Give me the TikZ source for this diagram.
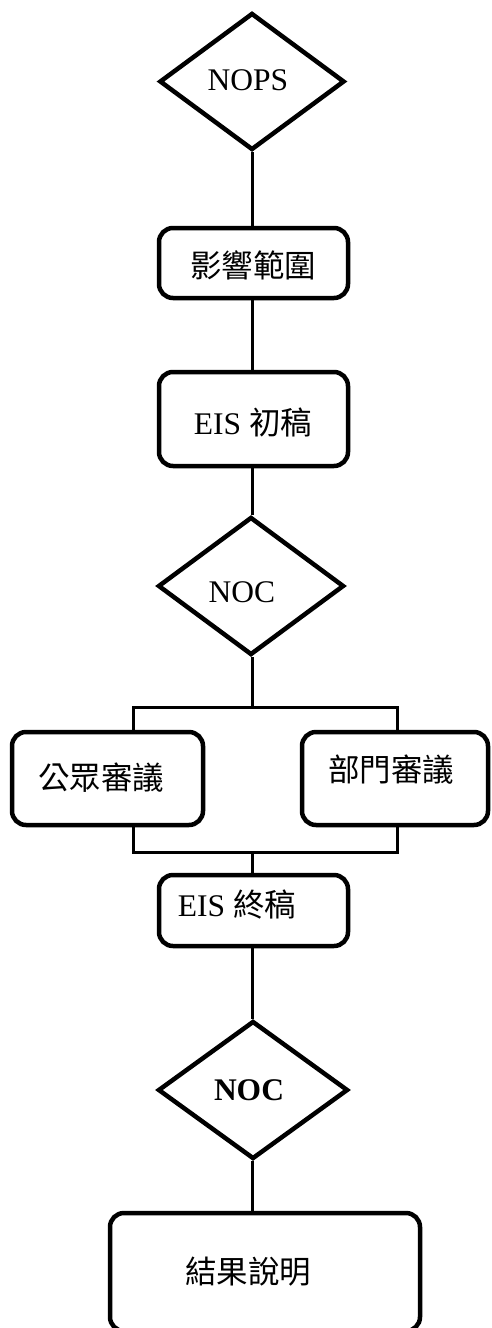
\documentclass[tikz,border=0pt]{standalone}
\usepackage{fontspec}
\setmainfont{Liberation Serif}
\newfontfamily\cjk{Noto Sans CJK TC}
\usetikzlibrary{shapes.geometric}
\begin{document}
\begin{tikzpicture}[x=1pt,y=-1pt,
  box/.style={draw=black,line width=4.5pt,rounded corners=14pt,rectangle,inner sep=0pt,fill=white},
  dia/.style={draw=black,line width=4.5pt,diamond,inner sep=0pt,fill=white},
  conn/.style={draw=black,line width=3pt},
  every node/.style={font=\fontsize{31.5}{36}\selectfont}]
\useasboundingbox (0,0) rectangle (491,1328);
\coordinate (tl) at (133,707);
\coordinate (tr) at (397,707);
\coordinate (bl) at (133,852);
\coordinate (br) at (397,852);
% shapes
\node[dia,minimum width=185pt,minimum height=137pt] (d1) at (252,81.5) {};
\node (t1) at (248,80) {NOPS};
\node[box,minimum width=189pt,minimum height=70pt] (r1) at (253.5,263) {};
\node (t2) at (253,265) {\cjk 影響範圍};
\node[box,minimum width=189pt,minimum height=94pt] (r2) at (253.5,419) {};
\node (t3) at (253,422) {EIS {\cjk 初稿}};
\node[dia,minimum width=186pt,minimum height=138pt] (d2) at (251,586) {};
\node (t4) at (242,592) {NOC};
\node[box,minimum width=191pt,minimum height=93pt] (pub) at (107.5,778.5) {};
\node (t5) at (101,778) {\cjk 公眾審議};
\node[box,minimum width=186pt,minimum height=93pt] (dep) at (395,778.5) {};
\node (t6) at (391,770) {\cjk 部門審議};
\node[box,minimum width=189pt,minimum height=71pt] (fin) at (253.5,910.5) {};
\node (t7) at (237,905) {EIS {\cjk 終稿}};
\node[dia,minimum width=190pt,minimum height=138pt] (d3) at (253,1090) {};
\node (t8) at (249,1090) {\bfseries NOC};
\node[box,minimum width=310pt,minimum height=118pt] (res) at (265,1272) {};
\node (t9) at (248,1272) {\cjk 結果說明};
% connectors
\draw[conn] (d1.south) -- (d1.south |- r1.north);
\draw[conn] (r1.south -| d1.south) -- (r2.north -| d1.south);
\draw[conn] (r2.south -| d1.south) -- (d2.north -| d1.south);
\draw[conn] (d2.south -| d1.south) -- (d1.south |- tl);
\draw[conn] (pub.north -| tl) -- (tl) -- (tr) -- (dep.north -| tr);
\draw[conn] (pub.south -| bl) -- (bl) -- (br) -- (dep.south -| br);
\draw[conn] (d1.south |- bl) -- (d1.south |- fin.north);
\draw[conn] (fin.south -| d1.south) -- (d1.south |- d3.north);
\draw[conn] (d3.south -| d1.south) -- (d1.south |- res.north);
\end{tikzpicture}
\end{document}
